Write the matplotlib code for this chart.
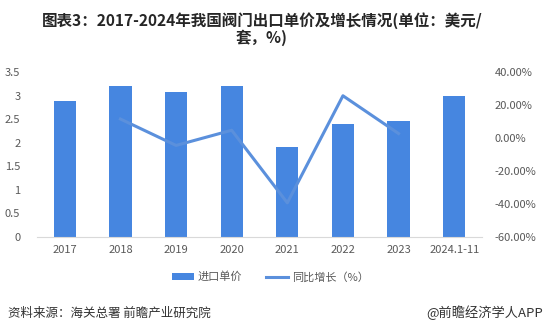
import matplotlib
matplotlib.use("Agg")
import matplotlib.pyplot as plt
from matplotlib.ticker import FuncFormatter

plt.rcParams['font.family'] = ['Noto Sans CJK SC', 'DejaVu Sans']

categories = ["2017", "2018", "2019", "2020", "2021", "2022", "2023", "2024.1-11"]
unit_price = [2.89, 3.20, 3.07, 3.20, 1.90, 2.39, 2.46, 2.99]
growth_cats = ["2018", "2019", "2020", "2021", "2022", "2023"]
growth = [11.5, -4.5, 4.7, -39.3, 25.6, 2.7]

left_ticks = [0, 0.5, 1, 1.5, 2, 2.5, 3, 3.5]
right_ticks = [-60, -40, -20, 0, 20, 40]

bar_color = "#4686E0"
line_color = "#5B90DC"
tick_color = "#595959"

fig = plt.figure(figsize=(5.46, 3.36), dpi=100)
ax = fig.add_axes([37/546, 1-237/336, (482-37)/546, (237-72)/336])
x = list(range(len(categories)))
ax.bar(x, unit_price, width=0.4, color=bar_color, label="进口单价", zorder=2)
ax.set_xlim(-0.5, len(categories) - 0.5)
ax.set_ylim(0, 3.5)
ax.set_yticks(left_ticks)
ax.set_yticklabels([f"{t:g}" for t in left_ticks])
ax.set_xticks(x)
ax.set_xticklabels(categories)
for s in ["top", "right", "left"]:
    ax.spines[s].set_visible(False)
ax.spines["bottom"].set_color("#D9D9D9")
ax.tick_params(axis="both", length=0, colors=tick_color, labelsize=8)
ax.tick_params(axis="y", pad=12)
ax.tick_params(axis="x", pad=6)

ax2 = ax.twinx()
gx = [categories.index(c) for c in growth_cats]
ax2.plot(gx, growth, color=line_color, linewidth=2.2, label="同比增长（%）", zorder=3)
ax2.set_ylim(-60, 40)
ax2.set_yticks(right_ticks)
ax2.yaxis.set_major_formatter(FuncFormatter(lambda v, p: f"{v:.2f}%"))
for s in ["top", "right", "left", "bottom"]:
    ax2.spines[s].set_visible(False)
ax2.tick_params(axis="y", length=0, colors=tick_color, labelsize=8, pad=9)

h1, l1 = ax.get_legend_handles_labels()
h2, l2 = ax2.get_legend_handles_labels()
fig.legend(h1 + h2, l1 + l2, loc="center", bbox_to_anchor=(270/546, 1-277/336),
           ncol=2, frameon=False, fontsize=8, labelcolor=tick_color,
           handlelength=2.0, handleheight=0.6, handletextpad=0.3, columnspacing=2.2)

fig.text(262/546, 1-21/336, "图表3：2017-2024年我国阀门出口单价及增长情况(单位：美元/",
         ha="center", va="center", fontsize=11.2, fontweight="bold", color="#262626")
fig.text(262/546, 1-38/336, "套，%)",
         ha="center", va="center", fontsize=11.2, fontweight="bold", color="#262626")
fig.text(8/546, 1-313/336, "资料来源：海关总署 前瞻产业研究院", ha="left", va="center",
         fontsize=9, color="#333333")
fig.text(543/546, 1-313/336, "@前瞻经济学人APP", ha="right", va="center",
         fontsize=9.5, color="#333333")

fig.savefig("out.png", dpi=100)
